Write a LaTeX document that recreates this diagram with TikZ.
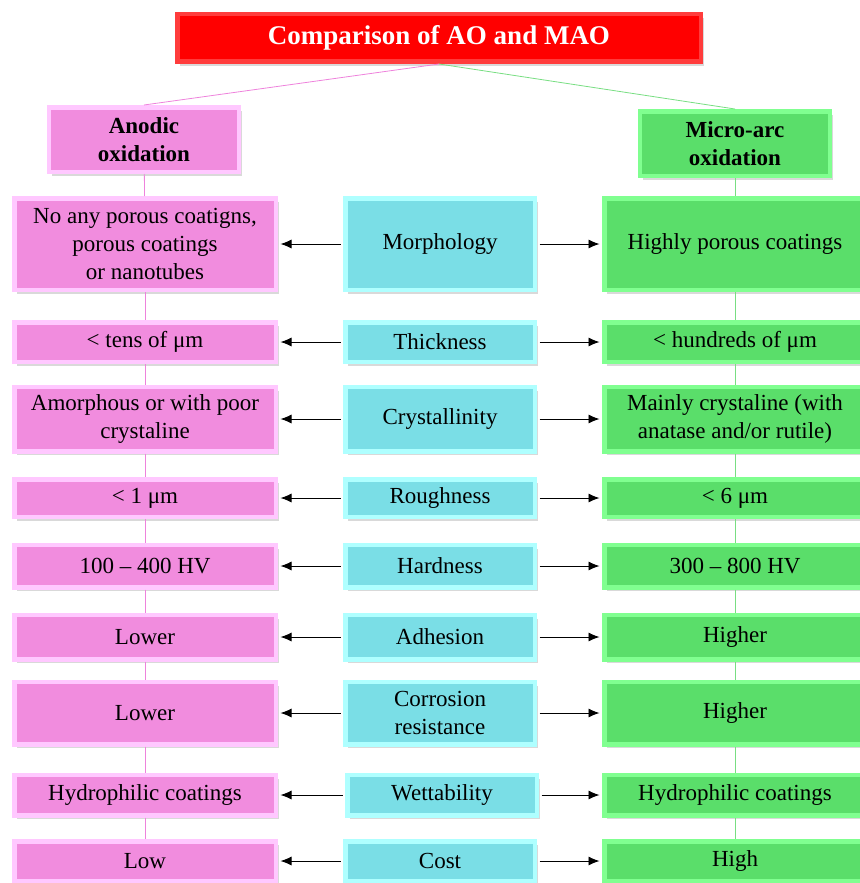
\documentclass[tikz,border=0pt]{standalone}
\usepackage{fontspec}
\setmainfont{Liberation Serif}
\usetikzlibrary{arrows.meta,shadows}

\definecolor{titlered}{RGB}{255,0,0}
\definecolor{titlelite}{RGB}{255,60,60}
\definecolor{aopink}{RGB}{241,140,222}
\definecolor{aolite}{RGB}{255,200,255}
\definecolor{propcyan}{RGB}{122,222,230}
\definecolor{proplite}{RGB}{175,255,255}
\definecolor{maogreen}{RGB}{90,222,106}
\definecolor{maolite}{RGB}{128,255,144}
\definecolor{aoline}{RGB}{238,130,220}
\definecolor{maoline}{RGB}{120,222,130}

\begin{document}
\begin{tikzpicture}[x=1pt,y=-1pt,
  box/.style={line width=4.5pt, inner sep=0pt, align=center,
    font=\fontsize{23}{28}\selectfont,
    drop shadow={shadow xshift=3pt,shadow yshift=-4pt,opacity=.3}},
  aobox/.style={box, fill=aopink, draw=aolite, minimum width=261.5pt, minimum height=#1},
  propbox/.style={box, fill=propcyan, draw=proplite, minimum width=189.5pt, minimum height=#1},
  maobox/.style={box, fill=maogreen, draw=maolite, minimum width=261.5pt, minimum height=#1},
  headbox/.style={box, font=\fontsize{23}{28}\selectfont\bfseries,
    minimum width=190pt, minimum height=64.5pt},
  titlebox/.style={box, fill=titlered, draw=titlelite, text=white,
    font=\fontsize{27}{32}\selectfont\bfseries,
    minimum width=523.5pt, minimum height=47.5pt},
  aolink/.style={draw=aoline, line width=0.8pt},
  maolink/.style={draw=maoline, line width=0.8pt},
  arr/.style={-{Latex[length=11pt,width=9pt]}, line width=0.9pt,
    shorten <=2.5pt, shorten >=2.5pt}]
\useasboundingbox (0,0) rectangle (859,883);

% heads
\node[titlebox] (title) at (439,38) {Comparison of AO and MAO};
\node[headbox, fill=aopink, draw=aolite] (aohead) at (144,139.5) {Anodic\\oxidation};
\node[headbox, fill=maogreen, draw=maolite] (maohead) at (735,143.5) {Micro-arc\\oxidation};

% rows
\node[aobox=91.5pt] (ao1) at (145,244) {No any porous coatigns,\\porous coatings\\or nanotubes};
\node[propbox=91.5pt] (p1) at (440,244) {Morphology};
\node[maobox=91.5pt] (mao1) at (735,244) {Highly porous coatings};

\node[aobox=39.5pt] (ao2) at (145,342) {< tens of μm};
\node[propbox=39.5pt] (p2) at (440,342) {Thickness};
\node[maobox=39.5pt] (mao2) at (735,342) {< hundreds of μm};

\node[aobox=64.5pt] (ao3) at (145,419) {Amorphous or with poor\\crystaline};
\node[propbox=64.5pt] (p3) at (440,419) {Crystallinity};
\node[maobox=64.5pt] (mao3) at (735,419) {Mainly crystaline (with\\anatase and/or rutile)};

\node[aobox=37.5pt] (ao4) at (145,498) {< 1 μm};
\node[propbox=37.5pt] (p4) at (440,498) {Roughness};
\node[maobox=37.5pt] (mao4) at (735,498) {< 6 μm};

\node[aobox=42.5pt] (ao5) at (145,566) {100 – 400 HV};
\node[propbox=42.5pt] (p5) at (440,566) {Hardness};
\node[maobox=42.5pt] (mao5) at (735,566) {300 – 800 HV};

\node[aobox=44.5pt] (ao6) at (145,637) {Lower};
\node[propbox=44.5pt] (p6) at (440,637) {Adhesion};
\node[maobox=44.5pt] (mao6) at (735,637) {Higher};

\node[aobox=62.5pt] (ao7) at (145,713) {Lower};
\node[propbox=62.5pt] (p7) at (440,713) {Corrosion\\resistance};
\node[maobox=62.5pt] (mao7) at (735,713) {Higher};

\node[aobox=40.5pt] (ao8) at (145,795) {Hydrophilic coatings};
\node[propbox=40.5pt] (p8) at (442,795) {Wettability};
\node[maobox=40.5pt] (mao8) at (735,795) {Hydrophilic coatings};

\node[aobox=39.5pt] (ao9) at (145,861) {Low};
\node[propbox=39.5pt] (p9) at (440,861) {Cost};
\node[maobox=39.5pt] (mao9) at (735,861) {High};

% links
\draw[aolink] (title.south) -- (aohead.north);
\draw[maolink] (title.south) -- (maohead.north);
\draw[aolink] (aohead) -- (ao1);
\draw[maolink] (maohead) -- (mao1);
\foreach \i [count=\j from 2] in {1,...,8} {
  \draw[aolink] (ao\i) -- (ao\j);
  \draw[maolink] (mao\i) -- (mao\j);
}
\foreach \i in {1,...,9} {
  \draw[arr] (p\i) -- (ao\i);
  \draw[arr] (p\i) -- (mao\i);
}
\end{tikzpicture}
\end{document}
